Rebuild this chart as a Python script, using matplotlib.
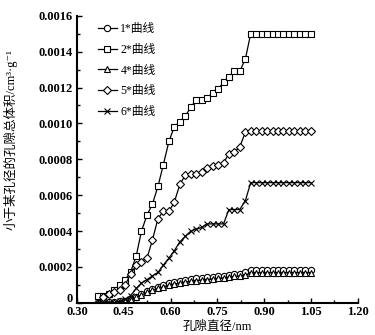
import numpy as np
import matplotlib.pyplot as plt
import matplotlib.transforms as mtransforms
from matplotlib.ticker import MultipleLocator, FuncFormatter

plt.rcParams['font.family'] = ['Liberation Serif', 'Noto Sans CJK SC', 'DejaVu Sans']
plt.rcParams['axes.unicode_minus'] = False

# pore diameter (nm)
diam = [0.367, 0.385, 0.402, 0.420, 0.437, 0.455, 0.472, 0.490, 0.507, 0.525,
        0.542, 0.560, 0.577, 0.595, 0.612, 0.630, 0.647, 0.665, 0.682, 0.700,
        0.717, 0.735, 0.752, 0.770, 0.787, 0.805, 0.822, 0.840, 0.857, 0.875,
        0.892, 0.910, 0.927, 0.945, 0.962, 0.980, 0.997, 1.015, 1.032, 1.050]

c1 = [0.0, 0.0, 0.000005, 0.000005, 0.000008, 0.000012, 0.00002, 0.000035, 0.00005, 0.000065,
      0.000078, 0.00009, 0.0001, 0.000108, 0.000115, 0.000122, 0.000128, 0.000132, 0.000136, 0.000139,
      0.000142, 0.000145, 0.000148, 0.000151, 0.000155, 0.00016, 0.000163, 0.00017, 0.000182, 0.000183,
      0.000183, 0.000183, 0.000183, 0.000183, 0.000183, 0.000183, 0.000183, 0.000183, 0.000183, 0.000183]

c2 = [0.00004, 0.00004, 0.00005, 0.00007, 0.0001, 0.00013, 0.00017, 0.00026, 0.0004, 0.00049,
      0.00055, 0.00065, 0.00077, 0.0009, 0.00098, 0.00101, 0.00104, 0.00109, 0.00113, 0.00113,
      0.00114, 0.00117, 0.00119, 0.00123, 0.00126, 0.00129, 0.00129, 0.00136, 0.00150, 0.0015,
      0.0015, 0.0015, 0.0015, 0.0015, 0.0015, 0.0015, 0.0015, 0.0015, 0.0015, 0.0015]

c4 = [0.0, 0.0, 0.0, 0.000004, 0.000006, 0.00001, 0.000017, 0.00003, 0.000044, 0.000058,
      0.00007, 0.00008, 0.00009, 0.000098, 0.000105, 0.000111, 0.000116, 0.00012, 0.000124, 0.000127,
      0.00013, 0.000133, 0.000136, 0.000139, 0.000143, 0.000147, 0.00015, 0.000156, 0.000166, 0.000167,
      0.000167, 0.000167, 0.000167, 0.000167, 0.000167, 0.000167, 0.000167, 0.000167, 0.000167, 0.000167]

c5 = [None, 0.00003, 0.00005, 0.00006, 0.00007, 0.0001, 0.00016, 0.00021, 0.00023, 0.00025,
      0.00035, 0.00047, 0.00051, 0.00051, 0.00056, 0.00066, 0.00071, 0.00072, 0.00072, 0.00073,
      0.00075, 0.00076, 0.00077, 0.00078, 0.00083, 0.00084, 0.00087, 0.00095, 0.00096, 0.00096,
      0.00096, 0.00096, 0.00096, 0.00096, 0.00096, 0.00096, 0.00096, 0.00096, 0.00096, 0.00096]

c6 = [0.0, 0.0, 0.0, 0.0, 0.00001, 0.00002, 0.00004, 0.00008, 0.00011, 0.00013,
      0.00015, 0.00017, 0.00021, 0.00025, 0.00029, 0.00034, 0.00037, 0.0004, 0.00041, 0.00042,
      0.00044, 0.00044, 0.00044, 0.00044, 0.00052, 0.00052, 0.00052, 0.00057, 0.00067, 0.00067,
      0.00067, 0.00067, 0.00067, 0.00067, 0.00067, 0.00067, 0.00067, 0.00067, 0.00067, 0.00067]

series = [('1*曲线', c1, 'o'), ('2*曲线', c2, 's'), ('4*曲线', c4, '^'),
          ('5*曲线', c5, 'D'), ('6*曲线', c6, 'x')]

x_ticks = [0.30, 0.45, 0.60, 0.75, 0.90, 1.05, 1.20]
y_ticks = [0, 0.0002, 0.0004, 0.0006, 0.0008, 0.0010, 0.0012, 0.0014, 0.0016]

fig = plt.figure(figsize=(3.75, 3.35), dpi=100)
ax = fig.add_axes([0.205, 0.096, 0.749, 0.857])

for name, vals, m in series:
    y = np.array([np.nan if v is None else v for v in vals], dtype=float)
    ms = 3.6 if m == 'D' else 4.5
    ax.plot(diam, y, color='black', lw=0.9, marker=m, ms=ms, mfc='white',
            mec='black', mew=0.8, label=name)

ax.set_xlim(0.30, 1.20)
ax.set_ylim(0, 0.0016)
ax.set_xticks(x_ticks)
ax.set_yticks(y_ticks)
ax.xaxis.set_minor_locator(MultipleLocator(0.075))
ax.yaxis.set_minor_locator(MultipleLocator(0.0001))
ax.xaxis.set_major_formatter(FuncFormatter(lambda v, p: f'{v:.2f}'))
ax.yaxis.set_major_formatter(FuncFormatter(lambda v, p: '0' if abs(v) < 1e-9 else f'{v:.4f}'))
ax.tick_params(which='both', direction='in', labelsize=9, width=1, color='black')
ax.tick_params(which='major', length=3.5)
ax.tick_params(which='minor', length=2)
ax.tick_params(axis='x', pad=2.5)
ax.tick_params(axis='y', pad=3)
for lbl in ax.get_xticklabels() + ax.get_yticklabels():
    lbl.set_fontweight('bold')

# lift the "0" on the y axis a little so it sits above "0.30"
shift = mtransforms.ScaledTranslation(0, 4 / 72, fig.dpi_scale_trans)
ytl = ax.yaxis.get_major_ticks()[0].label1
ytl.set_transform(ytl.get_transform() + shift)

for s in ['top', 'right']:
    ax.spines[s].set_visible(False)
for s in ['left', 'bottom']:
    ax.spines[s].set_linewidth(1.5)

ax.set_xlabel('孔隙直径/nm', fontsize=9, labelpad=2)
ax.set_ylabel('小于某孔径的孔隙总体积/cm³·g⁻¹', fontsize=9)
ax.yaxis.set_label_coords(-0.21, 0.57)

ax.legend(loc='upper left', bbox_to_anchor=(0.05, 1.0), frameon=False, fontsize=8.5,
          handlelength=1.6, handletextpad=0.3, labelspacing=0.75, borderaxespad=0.2)

fig.savefig('out.png', dpi=100)
